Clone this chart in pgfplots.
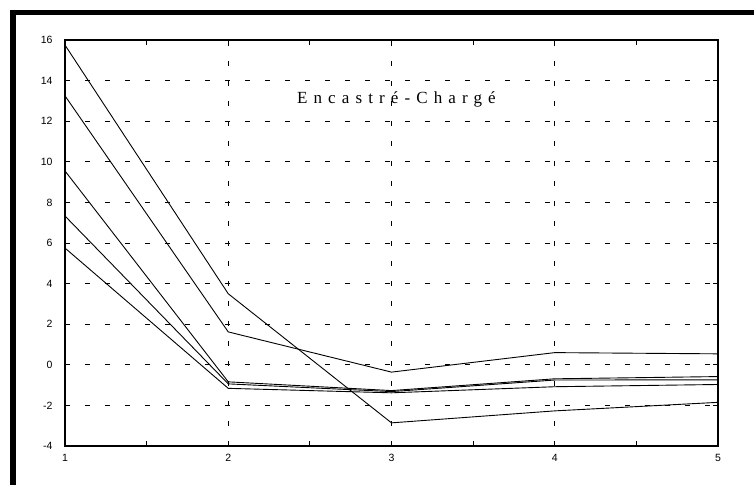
\documentclass[border=0pt]{standalone}
\usepackage{fontspec}
\setmainfont{Liberation Sans}
\newfontfamily\titlefont[LetterSpace=36]{Liberation Serif}
\usepackage{pgfplots}
\pgfplotsset{compat=1.18}
\begin{document}
\begin{tikzpicture}
\useasboundingbox (0,0) rectangle (754bp,485bp);
\fill[white] (0,0) rectangle (754bp,485bp);
\draw[line width=5.5bp] (13bp,0) -- (13bp,472.5bp) -- (754bp,472.5bp);
\begin{axis}[
  at={(65bp,39bp)}, anchor=south west,
  scale only axis, width=653bp, height=406bp,
  xmin=1, xmax=5, ymin=-4, ymax=16,
  xtick={1,2,3,4,5}, minor xtick={1.5,2.5,3.5,4.5},
  ytick={-4,-2,0,2,4,6,8,10,12,14,16},
  tick align=inside, major tick length=5bp, minor tick length=5bp,
  tick style={black, line width=0.9bp},
  axis line style={line width=1.6bp},
  grid=major,
  major grid style={black, line width=0.8bp, dash pattern=on 4.5bp off 15.5bp},
  tick label style={font=\fontsize{10.5bp}{12bp}\selectfont},
  /pgf/number format/assume math mode=true,
  xticklabel style={yshift=-5bp},
  yticklabel style={xshift=-9bp},
  clip=false,
]
\addplot[black, line width=0.9bp] coordinates {(1,15.75) (2,3.5) (3,-2.86) (4,-2.27) (5,-1.85)};
\addplot[black, line width=0.9bp] coordinates {(1,13.25) (2,1.62) (3,-0.36) (4,0.6) (5,0.54)};
\addplot[black, line width=0.9bp] coordinates {(1,9.55) (2,-0.84) (3,-1.27) (4,-0.69) (5,-0.58)};
\addplot[black, line width=0.9bp] coordinates {(1,7.33) (2,-0.94) (3,-1.32) (4,-0.75) (5,-0.74)};
\addplot[black, line width=0.9bp] coordinates {(1,5.75) (2,-1.16) (3,-1.38) (4,-1.08) (5,-0.97)};
\node[anchor=base, inner sep=0pt] at (axis cs:3.03,12.86) {\titlefont\fontsize{17bp}{19bp}\selectfont Encastré-Chargé};
\end{axis}
\end{tikzpicture}
\end{document}
